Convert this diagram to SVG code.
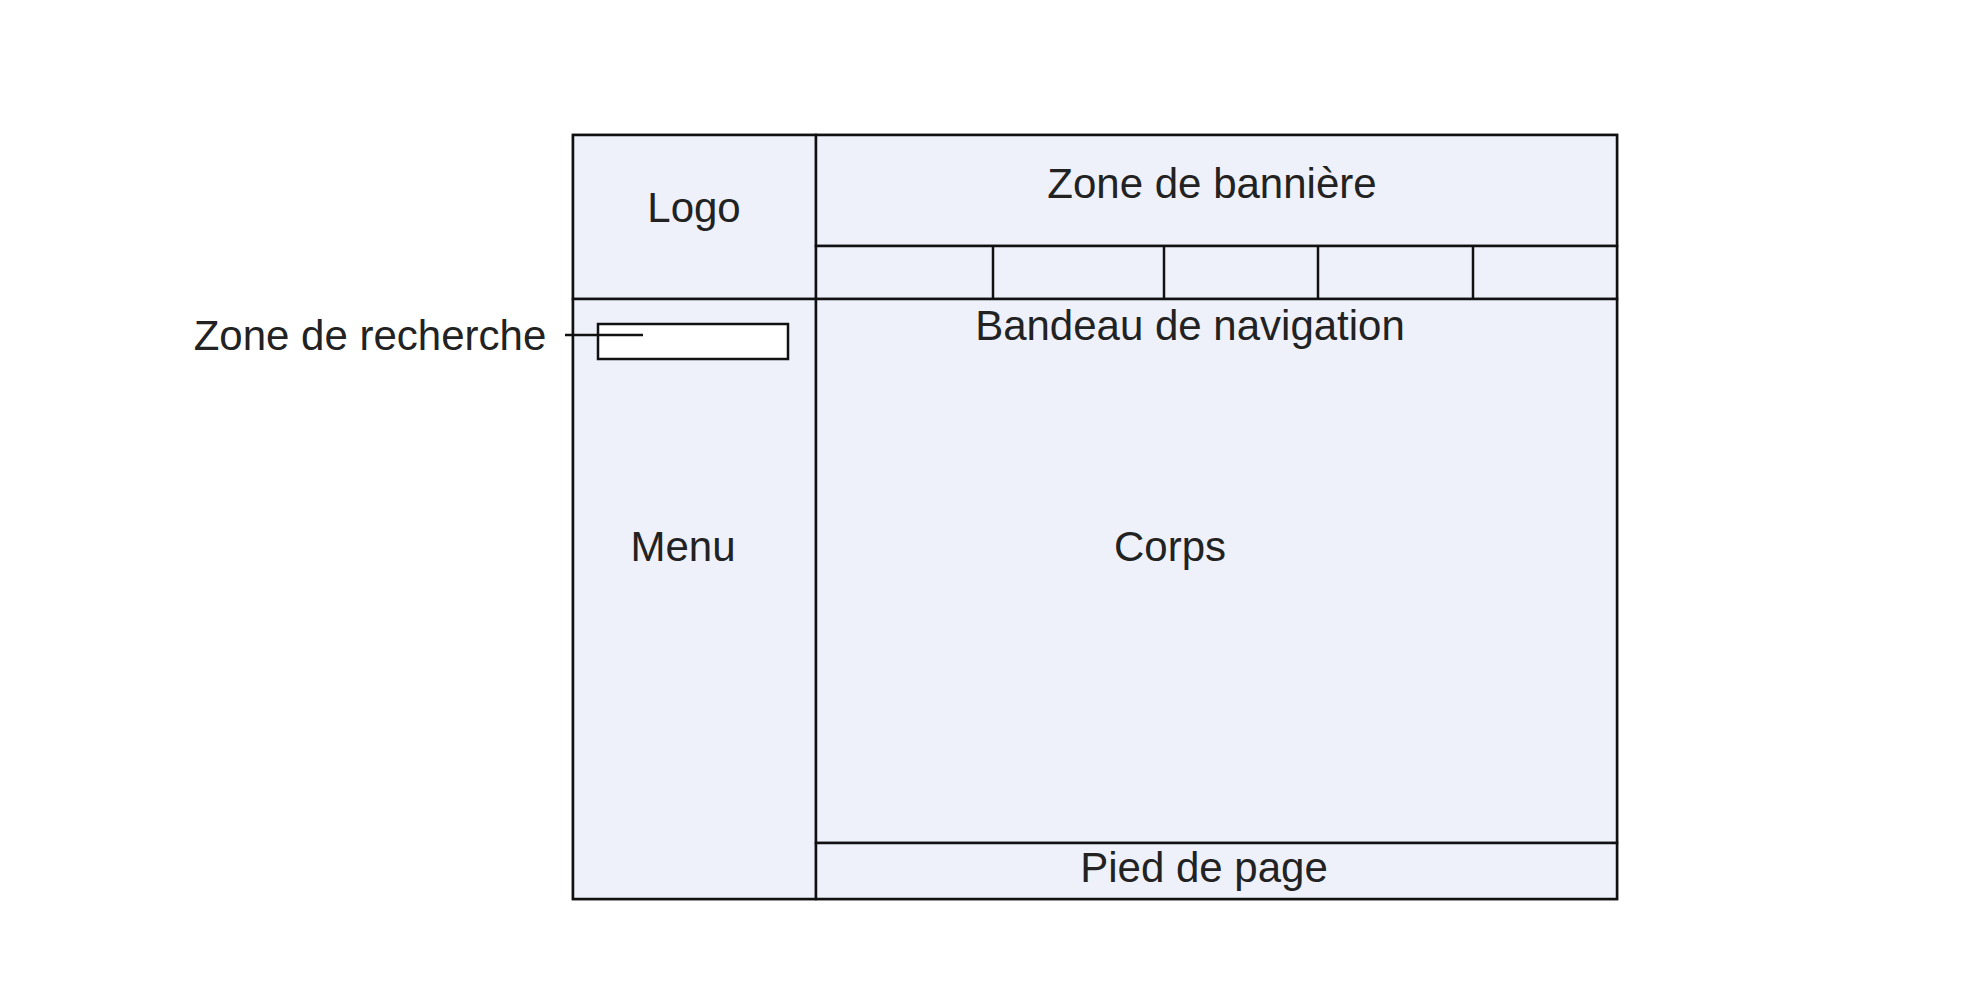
<svg xmlns="http://www.w3.org/2000/svg" width="1982" height="982" viewBox="0 0 1982 982">
  <style>
    .zone { fill: #EEF1FA; stroke: #111; stroke-width: 2.5; }
    .box { fill: #FFFFFF; stroke: #111; stroke-width: 2.5; }
    .rule { stroke: #111; stroke-width: 2.5; fill: none; }
    .lbl { font-family: "Liberation Sans", Arial, sans-serif; font-size: 42px; fill: #222; text-anchor: middle; }
  </style>
  <rect width="1982" height="982" fill="#FFFFFF"/>

  <!-- page frame -->
  <g id="page">
    <rect class="zone" x="573" y="135" width="1044" height="764"/>
  </g>

  <g id="logo">
    <rect class="zone" x="573" y="135" width="243" height="164"/>
    <text class="lbl" x="694" y="222">Logo</text>
  </g>

  <g id="banniere">
    <rect class="zone" x="816" y="135" width="801" height="111"/>
    <text class="lbl" x="1212" y="198">Zone de bannière</text>
  </g>

  <g id="navigation">
    <rect class="zone" x="816" y="246" width="801" height="53"/>
    <line class="rule" x1="993" y1="246" x2="993" y2="299"/>
    <line class="rule" x1="1164" y1="246" x2="1164" y2="299"/>
    <line class="rule" x1="1318" y1="246" x2="1318" y2="299"/>
    <line class="rule" x1="1473" y1="246" x2="1473" y2="299"/>
  </g>

  <g id="menu">
    <rect class="zone" x="573" y="299" width="243" height="600"/>
    <text class="lbl" x="683" y="561">Menu</text>
  </g>

  <g id="corps">
    <rect class="zone" x="816" y="299" width="801" height="544"/>
    <text class="lbl" x="1190" y="340">Bandeau de navigation</text>
    <text class="lbl" x="1170" y="561">Corps</text>
  </g>

  <g id="pied">
    <rect class="zone" x="816" y="843" width="801" height="56"/>
    <text class="lbl" x="1204" y="882">Pied de page</text>
  </g>

  <g id="recherche">
    <rect class="box" x="598" y="324" width="190" height="35"/>
    <text class="lbl" x="370" y="350">Zone de recherche</text>
  </g>

  <g id="connectors">
    <line class="rule" x1="565" y1="335" x2="643" y2="335" stroke-width="2"/>
  </g>
</svg>
